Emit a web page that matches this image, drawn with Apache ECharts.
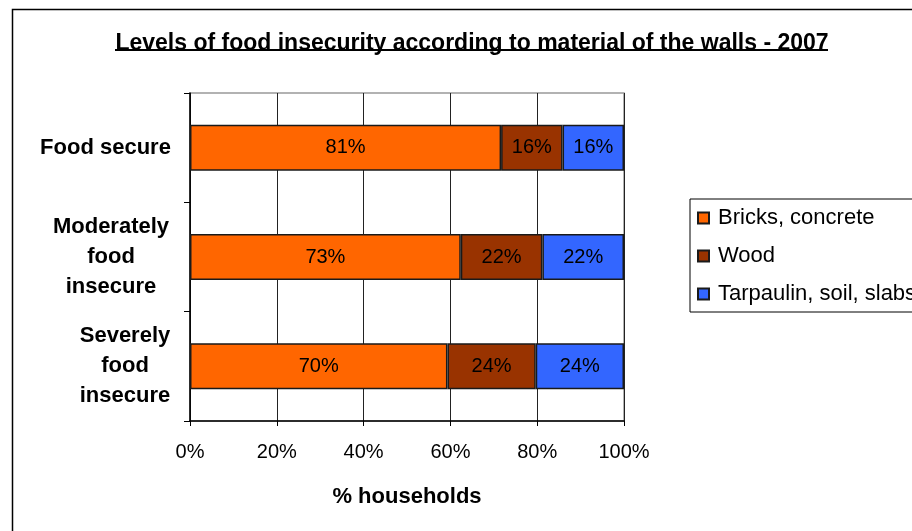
<!DOCTYPE html>
<html>
<head>
<meta charset="utf-8">
<script src="https://cdn.jsdelivr.net/npm/echarts@6/dist/echarts.min.js"></script>
<style>
  html, body { margin: 0; padding: 0; background: #fff; }
  #chart { width: 912px; height: 531px; }
</style>
</head>
<body>
<div id="chart"></div>
<script>
// Household food security levels (rows) by wall material (stacked segments)
const categories = ['Food secure', 'Moderately\nfood\ninsecure', 'Severely\nfood\ninsecure'];
const materials = ['Bricks, concrete', 'Wood', 'Tarpaulin, soil, slabs'];
const bricksConcrete = [81, 73, 70];
const wood = [16, 22, 24];
const tarpaulinSoilSlabs = [16, 22, 24];
const xTicks = ['0%', '20%', '40%', '60%', '80%', '100%'];

const raw = [bricksConcrete, wood, tarpaulinSoilSlabs];
const colors = ['#FF6600', '#993300', '#3366FF'];
const font = '"Liberation Sans", Arial, sans-serif';

// Each row is scaled to 100% of its total; labels keep the recorded figures
const totals = categories.map((_, i) => raw.reduce((s, arr) => s + arr[i], 0));

const series = materials.map((name, k) => ({
  name: name,
  type: 'bar',
  stack: 'share',
  barWidth: '42%',
  itemStyle: { color: colors[k], borderColor: '#1a1a1a', borderWidth: 1.5 },
  label: {
    show: true,
    position: 'inside',
    color: '#000',
    fontFamily: font,
    fontSize: 20,
    formatter: p => raw[k][p.dataIndex] + '%'
  },
  data: raw[k].map((v, i) => v / totals[i] * 100)
}));

const catLabel = w => ({
  width: w, align: 'center', fontFamily: font, fontWeight: 'bold',
  fontSize: 22, lineHeight: 30, color: '#000'
});

const chart = echarts.init(document.getElementById('chart'));
chart.setOption({
  animation: false,
  backgroundColor: '#fff',
  title: {
    text: 'Levels of food insecurity according to material of the walls - 2007',
    left: 471,
    textAlign: 'center',
    top: 27,
    textStyle: { fontFamily: font, fontWeight: 'bold', fontSize: 23, color: '#000' }
  },
  legend: {
    orient: 'vertical',
    left: 690,
    top: 199,
    padding: [8, 40, 7, 7],
    itemGap: 16,
    itemWidth: 11,
    itemHeight: 11,
    icon: 'rect',
    borderColor: '#000',
    borderWidth: 1,
    textStyle: { fontFamily: font, fontSize: 22, color: '#000', padding: [0, 0, 0, 4] },
    data: materials
  },
  grid: {
    left: 190, right: 288, top: 93, bottom: 110,
    show: true, borderColor: '#999', borderWidth: 1.5, backgroundColor: 'transparent'
  },
  xAxis: {
    type: 'value',
    min: 0, max: 100, interval: 20,
    name: '% households',
    nameLocation: 'middle',
    nameGap: 65,
    nameTextStyle: { fontFamily: font, fontWeight: 'bold', fontSize: 22, color: '#000' },
    axisLine: { show: true, lineStyle: { color: '#000', width: 1.5 } },
    axisTick: { show: true, length: 5, lineStyle: { color: '#000' } },
    splitLine: { show: true, lineStyle: { color: '#222', width: 1 } },
    axisLabel: {
      margin: 21,
      fontFamily: font, fontSize: 20, color: '#000',
      formatter: v => xTicks[Math.round(v / 20)]
    }
  },
  yAxis: {
    type: 'category',
    inverse: true,
    data: categories,
    axisLine: { show: true, lineStyle: { color: '#000', width: 1.5 } },
    axisTick: { show: true, length: 6, lineStyle: { color: '#000' } },
    axisLabel: {
      margin: 17,
      formatter: (v, i) => '{c' + i + '|' + v + '}',
      rich: { c0: catLabel(135), c1: catLabel(124), c2: catLabel(96) }
    }
  },
  graphic: [
    { type: 'rect', z: 100, silent: true, shape: { x: 12.5, y: 9.5, width: 1000, height: 700 },
      style: { fill: 'none', stroke: '#000', lineWidth: 1.5 } },
    { type: 'line', z: 100, silent: true, shape: { x1: 115, y1: 50, x2: 828, y2: 50 },
      style: { stroke: '#000', lineWidth: 2 } }
  ],
  series: series
});
// nudge the centred title slightly left so it sits over its underline
chart.setOption({ title: { left: 467 } });
</script>
</body>
</html>
